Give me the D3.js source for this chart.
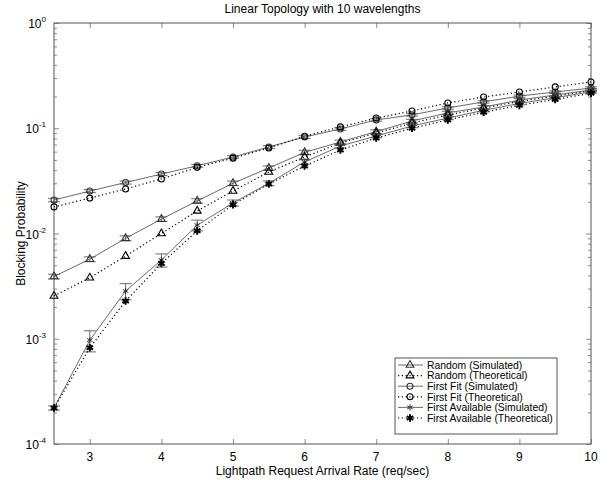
<!DOCTYPE html>
<html>
<head>
<meta charset="utf-8">
<script src="https://cdn.jsdelivr.net/npm/d3@7"></script>
<style>
  body { margin: 0; background: #fff; }
  text { font-family: Arial, "Liberation Sans", sans-serif; }
</style>
</head>
<body>
<svg id="chart" width="613" height="480"></svg>
<script>
// arrival rates (req/sec)
var rates = [2.5, 3, 3.5, 4, 4.5, 5, 5.5, 6, 6.5, 7, 7.5, 8, 8.5, 9, 9.5, 10];

var randomSim      = [0.0039, 0.0057, 0.0090, 0.0137, 0.0204, 0.0300, 0.0419, 0.0590, 0.0740, 0.0930, 0.117, 0.140, 0.159, 0.185, 0.207, 0.231];
var randomSimErr   = [0.0002, 0.0003, 0.0005, 0.0007, 0.0010, 0.0015, 0.0020, 0.0028, 0.0032, 0.0038, 0.0045, 0.0050, 0.0055, 0.0060, 0.0065, 0.0070];
var randomTheo     = [0.00255, 0.0038, 0.0061, 0.0100, 0.0164, 0.0253, 0.0384, 0.0533, 0.0724, 0.0900, 0.112, 0.134, 0.155, 0.180, 0.202, 0.227];

var firstFitSim    = [0.0208, 0.0253, 0.0305, 0.0367, 0.0440, 0.0533, 0.0664, 0.0826, 0.0984, 0.120, 0.134, 0.156, 0.178, 0.202, 0.221, 0.241];
var firstFitSimErr = [0.0008, 0.0008, 0.0010, 0.0012, 0.0014, 0.0016, 0.0020, 0.0024, 0.0028, 0.0032, 0.0036, 0.0040, 0.0045, 0.0050, 0.0055, 0.0060];
var firstFitTheo   = [0.0179, 0.0217, 0.0265, 0.0330, 0.0425, 0.0520, 0.0650, 0.0840, 0.103, 0.125, 0.146, 0.174, 0.198, 0.221, 0.247, 0.275];

var firstAvSim     = [0.00022, 0.00097, 0.00284, 0.0056, 0.0120, 0.0195, 0.0300, 0.0478, 0.0678, 0.0844, 0.105, 0.125, 0.148, 0.172, 0.195, 0.222];
var firstAvSimErr  = [0.00001, 0.00022, 0.00050, 0.0008, 0.0014, 0.0013, 0.0016, 0.0022, 0.0028, 0.0032, 0.0040, 0.0045, 0.0050, 0.0055, 0.0060, 0.0065];
var firstAvTheo    = [0.00022, 0.00082, 0.00228, 0.0052, 0.0106, 0.0188, 0.0295, 0.0438, 0.0621, 0.0807, 0.100, 0.120, 0.142, 0.165, 0.188, 0.215];

var xTicks = [3, 4, 5, 6, 7, 8, 9, 10];
var yDecades = [-4, -3, -2, -1, 0];

var margin = {top: 23, right: 22, bottom: 36, left: 54},
    width = 613 - margin.left - margin.right,
    height = 480 - margin.top - margin.bottom;

var lineGray = "#5a5a5a";

var series = [
  {name: "Random (Simulated)",           vals: randomSim,   err: randomSimErr,   mark: "tri",  dotted: false},
  {name: "Random (Theoretical)",         vals: randomTheo,  err: null,           mark: "tri",  dotted: true},
  {name: "First Fit (Simulated)",        vals: firstFitSim, err: firstFitSimErr, mark: "circ", dotted: false},
  {name: "First Fit (Theoretical)",      vals: firstFitTheo,err: null,           mark: "circ", dotted: true},
  {name: "First Available (Simulated)",  vals: firstAvSim,  err: firstAvSimErr,  mark: "ast",  dotted: false},
  {name: "First Available (Theoretical)",vals: firstAvTheo, err: null,           mark: "star", dotted: true}
];

var svg = d3.select("#chart");
var g = svg.append("g").attr("transform", "translate(" + margin.left + "," + margin.top + ")");

var x = d3.scaleLinear().domain([2.5, 10]).range([0, width]);
var y = d3.scaleLog().domain([1e-4, 1]).range([height, 0]);

// minor log ticks
var minor = [];
yDecades.slice(0, -1).forEach(function (e) {
  for (var k = 2; k <= 9; k++) minor.push(k * Math.pow(10, e));
});
var majors = yDecades.map(function (e) { return Math.pow(10, e); });

function styleAxis(sel) {
  sel.select(".domain").remove();
  sel.selectAll(".tick line").attr("stroke", "#8c8c8c");
}

g.append("g").attr("transform", "translate(0," + height + ")")
  .call(d3.axisBottom(x).tickValues(xTicks).tickSize(-5).tickFormat(""))
  .call(styleAxis);
g.append("g")
  .call(d3.axisTop(x).tickValues(xTicks).tickSize(-5).tickFormat(""))
  .call(styleAxis);
g.append("g").call(d3.axisLeft(y).tickValues(majors).tickSize(-5).tickFormat("")).call(styleAxis);
g.append("g").call(d3.axisLeft(y).tickValues(minor).tickSize(-3).tickFormat("")).call(styleAxis);
g.append("g").attr("transform", "translate(" + width + ",0)")
  .call(d3.axisRight(y).tickValues(majors).tickSize(-5).tickFormat("")).call(styleAxis);
g.append("g").attr("transform", "translate(" + width + ",0)")
  .call(d3.axisRight(y).tickValues(minor).tickSize(-3).tickFormat("")).call(styleAxis);

g.append("rect").attr("width", width).attr("height", height)
  .attr("fill", "none").attr("stroke", "#555").attr("stroke-width", 1);

// tick labels
g.selectAll(".xl").data(xTicks).enter().append("text")
  .attr("x", function (d) { return x(d); })
  .attr("y", height + 17)
  .attr("text-anchor", "middle")
  .attr("font-size", 12)
  .text(function (d) { return d; });

var yl = g.selectAll(".yl").data(yDecades).enter().append("text")
  .attr("x", -8)
  .attr("y", function (d) { return y(Math.pow(10, d)) + 5; })
  .attr("text-anchor", "end")
  .attr("font-size", 12);
yl.append("tspan").text("10");
yl.append("tspan").attr("dy", -6).attr("font-size", 8).text(function (d) { return d; });

// titles
svg.append("text").attr("x", margin.left + width / 2).attr("y", 13)
  .attr("text-anchor", "middle").attr("font-size", 12)
  .text("Linear Topology with 10 wavelengths");
svg.append("text").attr("x", margin.left + width / 2).attr("y", 475)
  .attr("text-anchor", "middle").attr("font-size", 12)
  .text("Lightpath Request Arrival Rate (req/sec)");
svg.append("text")
  .attr("transform", "translate(25," + (margin.top + height / 2) + ") rotate(-90)")
  .attr("text-anchor", "middle").attr("font-size", 12)
  .text("Blocking Probability");

// markers
function drawMarker(sel, kind, color) {
  if (kind === "tri") {
    sel.append("path").attr("d", d3.symbol(d3.symbolTriangle, 26)())
      .attr("fill", "none").attr("stroke", color).attr("stroke-width", 1.1);
  } else if (kind === "circ") {
    sel.append("circle").attr("r", 3)
      .attr("fill", "none").attr("stroke", color).attr("stroke-width", 1.1);
  } else if (kind === "ast") {
    sel.append("path").attr("d", d3.symbol(d3.symbolAsterisk, 28)())
      .attr("fill", "none").attr("stroke", color).attr("stroke-width", 1);
  } else {
    sel.append("path").attr("d", d3.symbol(d3.symbolAsterisk, 40)())
      .attr("fill", "none").attr("stroke", color).attr("stroke-width", 2);
  }
}

var line = d3.line()
  .x(function (d, i) { return x(rates[i]); })
  .y(function (d) { return y(d); });

series.forEach(function (s) {
  var col = s.dotted ? "#000" : lineGray;
  g.append("path").datum(s.vals)
    .attr("d", line)
    .attr("fill", "none")
    .attr("stroke", col)
    .attr("stroke-width", s.dotted ? 1.2 : 0.9)
    .attr("stroke-dasharray", s.dotted ? "1.2,2.6" : null);

  if (s.err) {
    var eb = g.selectAll(null).data(s.vals).enter().append("g")
      .attr("stroke", col).attr("stroke-width", 0.9);
    eb.append("line")
      .attr("x1", function (d, i) { return x(rates[i]); })
      .attr("x2", function (d, i) { return x(rates[i]); })
      .attr("y1", function (d, i) { return y(d - s.err[i]); })
      .attr("y2", function (d, i) { return y(d + s.err[i]); });
    [-1, 1].forEach(function (sgn) {
      eb.append("line")
        .attr("x1", function (d, i) { return x(rates[i]) - 6; })
        .attr("x2", function (d, i) { return x(rates[i]) + 6; })
        .attr("y1", function (d, i) { return y(d + sgn * s.err[i]); })
        .attr("y2", function (d, i) { return y(d + sgn * s.err[i]); });
    });
  }

  var m = g.selectAll(null).data(s.vals).enter().append("g")
    .attr("transform", function (d, i) { return "translate(" + x(rates[i]) + "," + y(d) + ")"; });
  drawMarker(m, s.mark, s.dotted ? "#000" : "#333");
});

// legend
var lg = svg.append("g").attr("transform", "translate(395,358)");
lg.append("rect").attr("width", 162).attr("height", 76)
  .attr("fill", "#fff").attr("stroke", "#555");
series.forEach(function (s, i) {
  var row = lg.append("g").attr("transform", "translate(0," + (7 + i * 10.6) + ")");
  row.append("line").attr("x1", 3).attr("x2", 28)
    .attr("stroke", s.dotted ? "#000" : lineGray)
    .attr("stroke-width", s.dotted ? 1.2 : 0.9)
    .attr("stroke-dasharray", s.dotted ? "1.2,2.6" : null);
  var mk = row.append("g").attr("transform", "translate(15,0)");
  drawMarker(mk, s.mark, s.dotted ? "#000" : "#333");
  row.append("text").attr("x", 32).attr("y", 3.7).attr("font-size", 10.4).text(s.name);
});
</script>
</body>
</html>
